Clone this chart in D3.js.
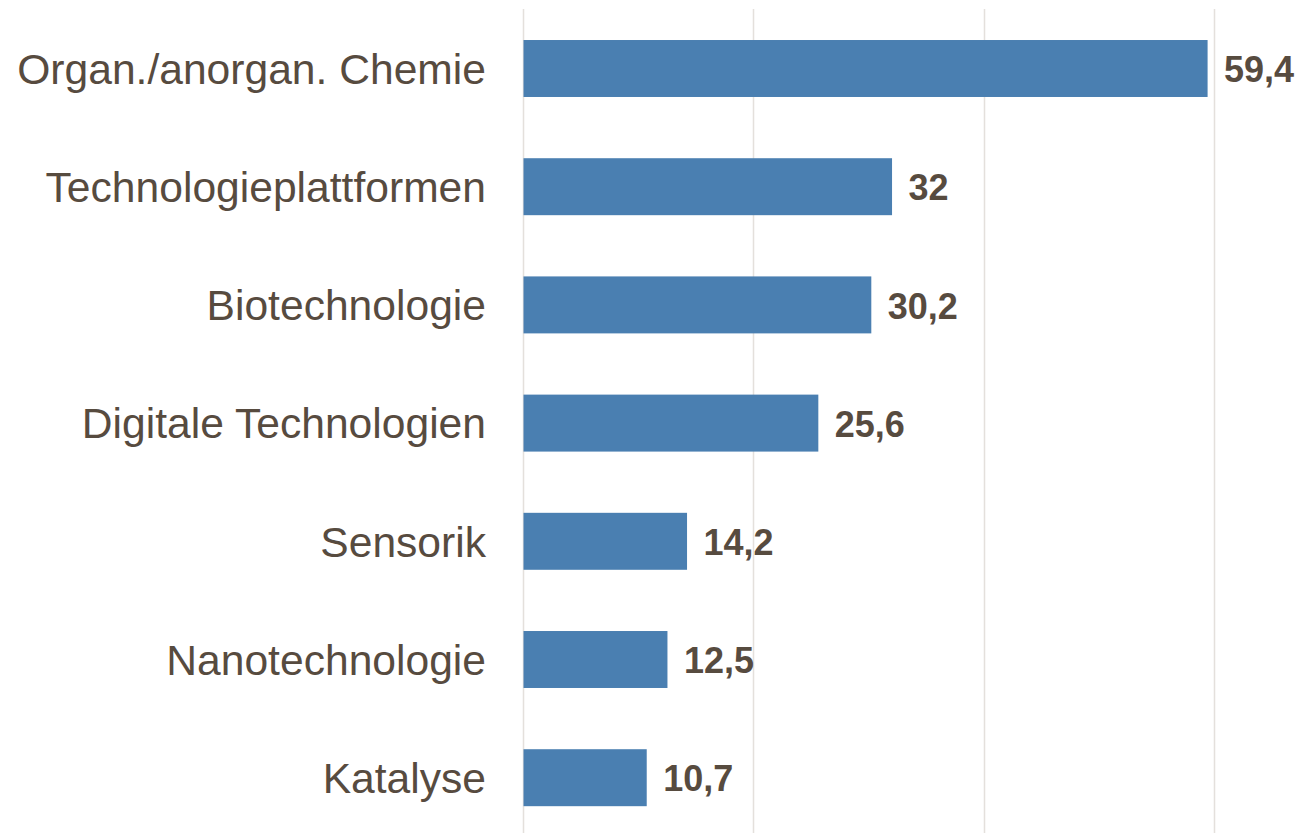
<!DOCTYPE html>
<html>
<head>
<meta charset="utf-8">
<script src="https://cdnjs.cloudflare.com/ajax/libs/d3/7.8.5/d3.min.js"></script>
<style>
  html, body { margin: 0; padding: 0; background: #fff; }
  svg { display: block; }
</style>
</head>
<body>
<div id="chart"></div>
<script>
// chart values
var categories = ["Organ./anorgan. Chemie", "Technologieplattformen", "Biotechnologie",
  "Digitale Technologien", "Sensorik", "Nanotechnologie", "Katalyse"];
var values = [59.4, 32, 30.2, 25.6, 14.2, 12.5, 10.7];
var gridTicks = [0, 20, 40, 60];

var width = 1299, height = 833;
var text_col = "#574b3f";

var svg = d3.select("div#chart").append("svg")
  .attr("width", width).attr("height", height);

var x = d3.scaleLinear().domain([0, 60]).range([523, 1214]);
var y = d3.scaleBand().domain(categories).range([9.4, 836.8])
  .paddingInner(0.518).paddingOuter(0.259);

// vertical grid lines
svg.append("g").selectAll("line").data(gridTicks).enter().append("line")
  .attr("x1", function(d) { return Math.round(x(d)) + 0.5; })
  .attr("x2", function(d) { return Math.round(x(d)) + 0.5; })
  .attr("y1", 9).attr("y2", height)
  .attr("stroke", "#e4e0dc").attr("stroke-width", 1.5);

var rows = categories.map(function(c, i) { return { cat: c, val: values[i] }; });

// bars
svg.append("g").selectAll("rect").data(rows).enter().append("rect")
  .attr("x", x(0) + 0.5)
  .attr("y", function(d) { return y(d.cat); })
  .attr("width", function(d) { return x(d.val) - x(0); })
  .attr("height", y.bandwidth())
  .attr("fill", "#4a7fb1");

// category labels
svg.append("g").selectAll("text").data(rows).enter().append("text")
  .attr("x", 486)
  .attr("y", function(d) { return y(d.cat) + y.bandwidth() / 2; })
  .attr("dy", "0.36em")
  .attr("text-anchor", "end")
  .style("font-family", "'Liberation Sans', Arial, sans-serif")
  .style("font-size", "42.6px")
  .attr("fill", text_col)
  .text(function(d) { return d.cat; });

// value labels
var fmt = function(v) { return String(v).replace(".", ","); };
svg.append("g").selectAll("text").data(rows).enter().append("text")
  .attr("x", function(d) { return x(d.val) + 17; })
  .attr("y", function(d) { return y(d.cat) + y.bandwidth() / 2; })
  .attr("dy", "0.38em")
  .style("font-family", "'Liberation Sans', Arial, sans-serif")
  .style("font-size", "36px")
  .style("font-weight", "bold")
  .attr("fill", text_col)
  .text(function(d) { return fmt(d.val); });
</script>
</body>
</html>
